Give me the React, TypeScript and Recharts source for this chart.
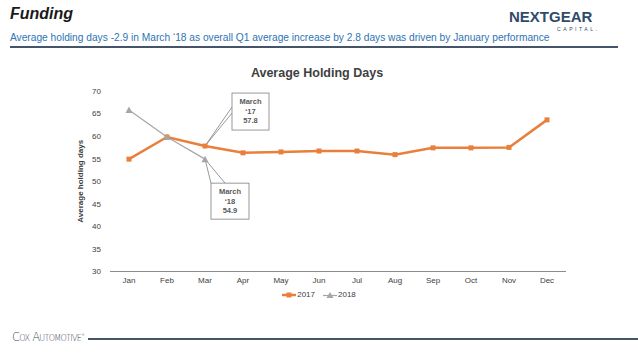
import { LineChart, Line, XAxis, YAxis, Legend, ReferenceDot } from "recharts";

const months = ["Jan", "Feb", "Mar", "Apr", "May", "Jun", "Jul", "Aug", "Sep", "Oct", "Nov", "Dec"];
const days2017 = [54.9, 59.8, 57.8, 56.3, 56.5, 56.7, 56.7, 55.9, 57.4, 57.4, 57.5, 63.6];
const days2018 = [65.8, 59.8, 54.9];
const yTicks = [30, 35, 40, 45, 50, 55, 60, 65, 70];

const ORANGE = "#E8803B";
const GREY = "#A6A6A6";
const FONT = "'Liberation Sans', Arial, sans-serif";

const data = months.map((m, i) => ({
  month: m,
  y2017: days2017[i],
  y2018: i < days2018.length ? days2018[i] : null,
}));

// square markers for 2017
const SquareDot = (props: any) => {
  const { cx, cy, index } = props;
  if (cx == null || cy == null) return <g key={`s-${index}`} />;
  return <rect key={`s-${index}`} x={cx - 2.5} y={cy - 2.5} width={5} height={5} fill={ORANGE} />;
};

// triangle markers for 2018
const TriDot = (props: any) => {
  const { cx, cy, index } = props;
  if (cx == null || cy == null) return <g key={`t-${index}`} />;
  return <polygon key={`t-${index}`} points={`${cx},${cy - 3.5} ${cx + 3.5},${cy + 3} ${cx - 3.5},${cy + 3}`} fill={GREY} />;
};

// callout box with a wedge pointing at the data point
const Callout = ({ cx, cy, lines, box, tip }: any) => {
  const [bx, by, bw, bh] = box;
  const x = cx + bx;
  const y = cy + by;
  return (
    <g>
      <polyline points={`${x + tip[0]},${y + tip[1]} ${cx},${cy} ${x + tip[2]},${y + tip[3]}`} fill="none" stroke="#7f7f7f" strokeWidth={0.8} />
      <rect x={x} y={y} width={bw} height={bh} fill="#fff" stroke="#7f7f7f" strokeWidth={0.8} />
      {lines.map((t: string, i: number) => (
        <text key={i} x={x + bw / 2} y={y + 11 + i * 9.5} textAnchor="middle" fontSize={7.5} fontWeight="bold" fill="#595959" fontFamily={FONT}>
          {t}
        </text>
      ))}
    </g>
  );
};

const LegendContent = () => (
  <div style={{ display: "flex", justifyContent: "center", alignItems: "center", fontFamily: FONT, fontSize: 8, color: "#404040", gap: 8 }}>
    <span style={{ display: "flex", alignItems: "center" }}>
      <svg width={14} height={8}>
        <line x1={0} y1={4} x2={14} y2={4} stroke={ORANGE} strokeWidth={2.5} />
        <rect x={4.5} y={1.5} width={5} height={5} fill={ORANGE} />
      </svg>
      <span style={{ marginLeft: 1 }}>2017</span>
    </span>
    <span style={{ display: "flex", alignItems: "center" }}>
      <svg width={14} height={8}>
        <line x1={0} y1={4.5} x2={14} y2={4.5} stroke={GREY} strokeWidth={1.2} />
        <polygon points="7,1 10.5,7 3.5,7" fill={GREY} />
      </svg>
      <span style={{ marginLeft: 1 }}>2018</span>
    </span>
  </div>
);

export default function App() {
  return (
    <div style={{ position: "absolute", left: 0, top: 0, width: 638, height: 359, background: "#fff", fontFamily: FONT, overflow: "hidden" }}>
      <div style={{ position: "absolute", left: 10, top: 5, fontSize: 16, fontWeight: "bold", fontStyle: "italic", color: "#1a1a1a" }}>Funding</div>
      <div style={{ position: "absolute", left: 509, top: 8, fontSize: 15, fontWeight: "bold", color: "#2f4b6c" }}>NEXTGEAR</div>
      <div style={{ position: "absolute", left: 557, top: 26, fontSize: 5, color: "#2f4b6c", letterSpacing: 2.6 }}>CAPITAL.</div>
      <div style={{ position: "absolute", left: 10, top: 32, fontSize: 10.2, color: "#2e74b5", whiteSpace: "nowrap" }}>
        Average holding days -2.9 in March ‘18 as overall Q1 average increase by 2.8 days was driven by January performance
      </div>
      <div style={{ position: "absolute", left: 10, top: 46, width: 608, height: 1.5, background: "#44546a" }} />

      <div style={{ position: "absolute", left: 0, top: 66, width: 638, textAlign: "center", fontSize: 12.5, fontWeight: "bold", color: "#404040" }}>
        <span style={{ marginRight: 4 }}>Average Holding Days</span>
      </div>

      <div style={{ position: "absolute", left: 0, top: 0 }}>
        <LineChart width={638} height={359} data={data} margin={{ top: 91, right: 72, bottom: 57.5, left: 70 }}>
          <XAxis
            dataKey="month"
            height={30}
            axisLine={{ stroke: "#8c8c8c" }}
            tickLine={false}
            tickSize={0}
            tickMargin={6}
            padding={{ left: 19, right: 19 }}
            tick={{ fontSize: 8, fill: "#404040", fontFamily: FONT }}
            interval={0}
          />
          <YAxis
            width={40}
            domain={[30, 70]}
            ticks={yTicks}
            axisLine={false}
            tickLine={false}
            tickSize={0}
            tickMargin={9}
            tick={{ fontSize: 8, fill: "#404040", fontFamily: FONT }}
            label={{ value: "Average holding days", angle: -90, position: "insideLeft", offset: 10, fontSize: 8, fontWeight: "bold", fill: "#404040", style: { textAnchor: "middle" } }}
          />
          <Legend verticalAlign="middle" align="center" wrapperStyle={{ left: 0, top: 290, width: 638 }} content={<LegendContent />} />
          <Line dataKey="y2017" name="2017" stroke={ORANGE} strokeWidth={2.5} dot={SquareDot} activeDot={false} isAnimationActive={false} />
          <Line dataKey="y2018" name="2018" stroke={GREY} strokeWidth={1.2} dot={TriDot} activeDot={false} isAnimationActive={false} connectNulls={false} />
          <ReferenceDot
            x="Mar"
            y={days2017[2]}
            r={0}
            shape={(p: any) => <Callout cx={p.cx} cy={p.cy} lines={["March", "‘17", String(days2017[2])]} box={[27, -53, 37, 37]} tip={[0, 14, 0, 20]} />}
          />
          <ReferenceDot
            x="Mar"
            y={days2018[2]}
            r={0}
            shape={(p: any) => <Callout cx={p.cx} cy={p.cy} lines={["March", "‘18", String(days2018[2])]} box={[6, 24, 38, 36]} tip={[0, 0, 14, 0]} />}
          />
        </LineChart>
      </div>

      <div style={{ position: "absolute", left: 12, top: 330, fontSize: 11.5, fontVariant: "small-caps", color: "#3b4a5a", fontFamily: "'DejaVu Sans', sans-serif", fontWeight: 300, letterSpacing: -0.7, whiteSpace: "nowrap" }}>
        Cox Automotive<sup style={{ fontSize: 4 }}>®</sup>
      </div>
      <div style={{ position: "absolute", left: 88, top: 338, width: 550, height: 2, background: "#44546a" }} />
    </div>
  );
}
